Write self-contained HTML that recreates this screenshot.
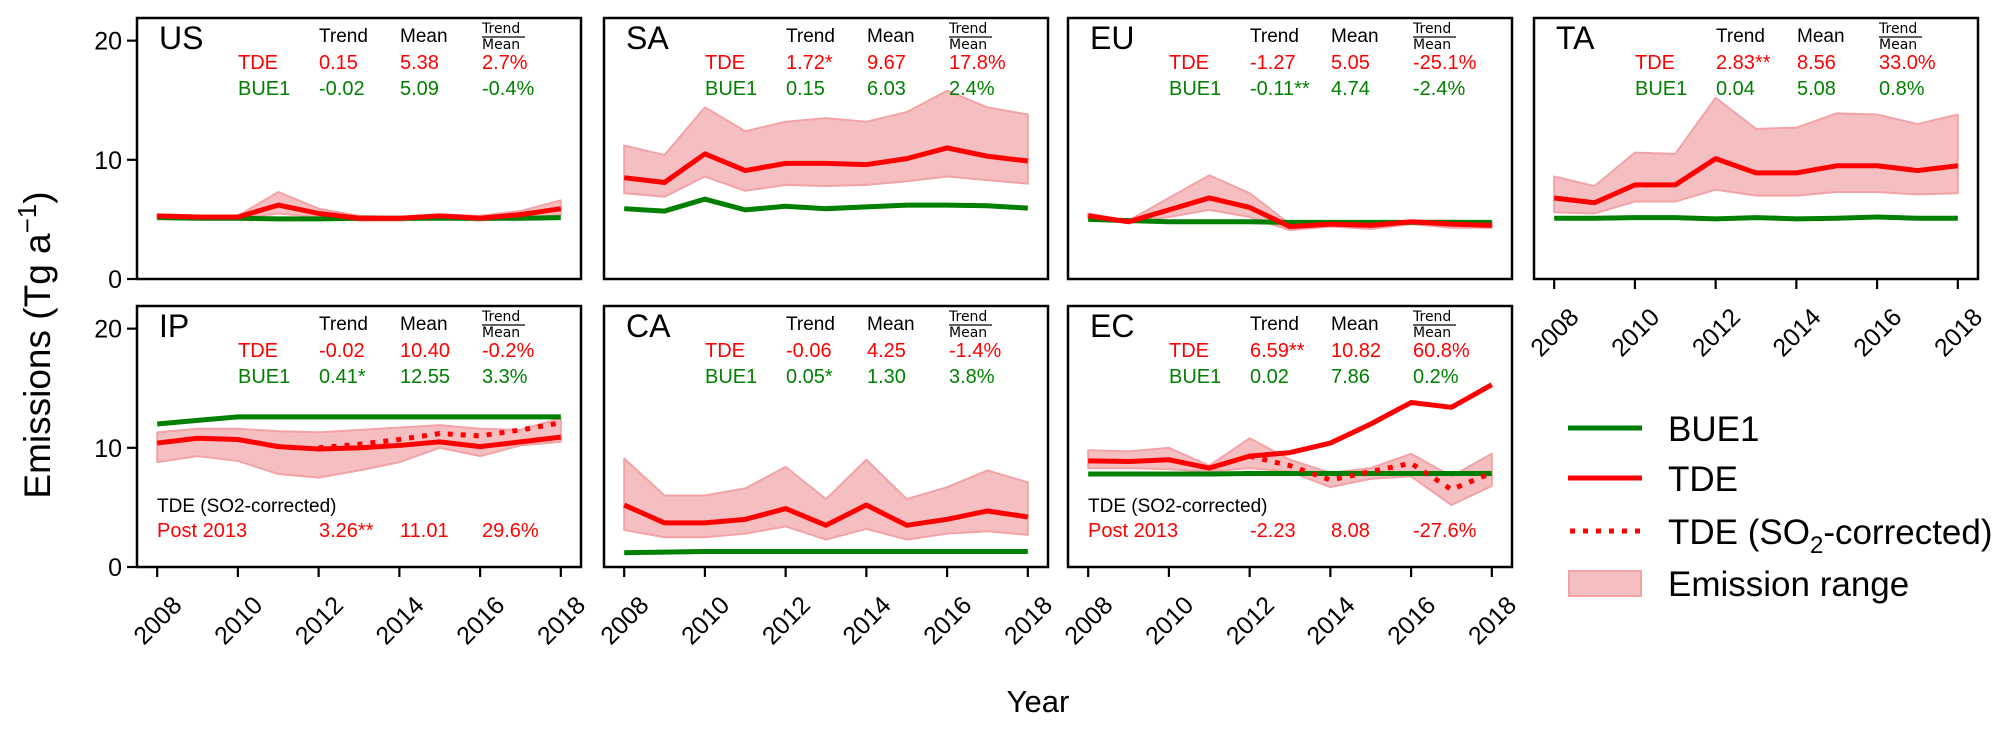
<!DOCTYPE html>
<html><head><meta charset="utf-8"><style>
html,body{margin:0;padding:0;background:#fff;}
svg{display:block;font-family:"Liberation Sans",sans-serif;}
</style></head><body>
<svg id="fig" width="2009" height="731" viewBox="0 0 2009 731" xmlns="http://www.w3.org/2000/svg"></svg>
<script>
const years = [2008,2009,2010,2011,2012,2013,2014,2015,2016,2017,2018];
const corrYears = [2012,2013,2014,2015,2016,2017,2018];
const yTicks = [0,10,20];
const xTicks = [2008,2010,2012,2014,2016,2018];

const usTDE = [5.3,5.2,5.2,6.2,5.5,5.1,5.1,5.3,5.1,5.4,5.9];
const usBUE = [5.15,5.1,5.1,5.05,5.05,5.1,5.1,5.1,5.1,5.1,5.15];
const usHi = [5.4,5.2,5.3,7.3,5.9,5.3,5.2,5.4,5.3,5.7,6.6];
const usLo = [5.1,5.1,5.1,5.5,5.2,4.9,4.9,5.1,4.9,5.1,5.4];

const saTDE = [8.5,8.1,10.5,9.1,9.7,9.7,9.6,10.1,11.0,10.3,9.9];
const saBUE = [5.9,5.7,6.7,5.8,6.1,5.9,6.05,6.2,6.2,6.15,5.95];
const saHi = [11.2,10.4,14.4,12.4,13.2,13.5,13.2,14.0,15.8,14.4,13.8];
const saLo = [7.2,6.9,8.6,7.4,7.9,7.8,7.9,8.2,8.6,8.3,8.0];

const euTDE = [5.3,4.8,5.8,6.8,6.0,4.4,4.6,4.5,4.8,4.6,4.5];
const euBUE = [5.0,4.9,4.8,4.8,4.8,4.75,4.75,4.75,4.75,4.75,4.75];
const euHi = [5.5,4.9,6.8,8.7,7.2,4.6,4.8,4.7,4.9,4.9,4.8];
const euLo = [5.1,4.7,5.2,5.8,5.2,4.1,4.4,4.2,4.6,4.3,4.3];

const taTDE = [6.8,6.4,7.9,7.9,10.1,8.9,8.9,9.5,9.5,9.1,9.5];
const taBUE = [5.1,5.1,5.15,5.15,5.05,5.15,5.05,5.1,5.2,5.1,5.1];
const taHi = [8.6,7.8,10.6,10.5,15.2,12.6,12.7,13.9,13.8,13.0,13.8];
const taLo = [5.6,5.5,6.5,6.5,7.5,7.0,7.0,7.3,7.3,7.1,7.2];

const ipTDE = [10.4,10.8,10.7,10.1,9.9,10.0,10.2,10.5,10.1,10.5,10.9];
const ipBUE = [12.0,12.3,12.6,12.6,12.6,12.6,12.6,12.6,12.6,12.6,12.6];
const ipCorr = [10.0,10.3,10.7,11.2,11.0,11.5,12.1];
const ipHi = [11.3,11.6,11.6,11.4,11.3,11.5,11.7,11.9,11.6,11.5,12.5];
const ipLo = [8.8,9.3,8.9,7.8,7.5,8.1,8.8,10.0,9.3,10.2,10.5];

const caTDE = [5.2,3.7,3.7,4.0,4.9,3.5,5.2,3.5,4.0,4.7,4.2];
const caBUE = [1.2,1.25,1.3,1.3,1.3,1.3,1.3,1.3,1.3,1.3,1.3];
const caHi = [9.1,6.0,6.0,6.6,8.4,5.7,9.0,5.7,6.7,8.1,7.1];
const caLo = [3.1,2.5,2.5,2.8,3.4,2.3,3.2,2.3,2.8,3.0,2.7];

const ecTDE = [8.9,8.85,9.0,8.3,9.3,9.6,10.4,12.0,13.8,13.4,15.3];
const ecBUE = [7.8,7.8,7.8,7.8,7.85,7.85,7.85,7.85,7.85,7.85,7.85];
const ecCorr = [9.3,8.5,7.3,8.0,8.7,6.5,7.9];
const ecHi = [9.8,9.7,10.0,8.5,10.8,9.0,7.9,8.3,9.5,7.6,9.5];
const ecLo = [8.3,8.3,8.2,8.0,8.3,8.0,6.7,7.4,7.6,5.2,6.8];

const tableTDE = {US:["0.15","5.38","2.7%"],SA:["1.72*","9.67","17.8%"],EU:["-1.27","5.05","-25.1%"],TA:["2.83**","8.56","33.0%"],IP:["-0.02","10.40","-0.2%"],CA:["-0.06","4.25","-1.4%"],EC:["6.59**","10.82","60.8%"]};
const tableBUE = {US:["-0.02","5.09","-0.4%"],SA:["0.15","6.03","2.4%"],EU:["-0.11**","4.74","-2.4%"],TA:["0.04","5.08","0.8%"],IP:["0.41*","12.55","3.3%"],CA:["0.05*","1.30","3.8%"],EC:["0.02","7.86","0.2%"]};
const tablePost = {IP:["3.26**","11.01","29.6%"],EC:["-2.23","8.08","-27.6%"]};

const NS="http://www.w3.org/2000/svg";
const svg=document.getElementById('fig');
function mk(tag,attrs,parent){const e=document.createElementNS(NS,tag);for(const k in attrs)e.setAttribute(k,attrs[k]);(parent||svg).appendChild(e);return e;}
function txt(s,attrs,parent){const e=mk('text',attrs,parent);e.textContent=s;return e;}

const W=444,H=261,YMAX=21.9;
const panels=[
 {id:'US',x:137,y:18,tde:usTDE,bue:usBUE,hi:usHi,lo:usLo,ylab:true,xlab:false},
 {id:'SA',x:604,y:18,tde:saTDE,bue:saBUE,hi:saHi,lo:saLo,ylab:false,xlab:false},
 {id:'EU',x:1068,y:18,tde:euTDE,bue:euBUE,hi:euHi,lo:euLo,ylab:false,xlab:false},
 {id:'TA',x:1534,y:18,tde:taTDE,bue:taBUE,hi:taHi,lo:taLo,ylab:false,xlab:true},
 {id:'IP',x:137,y:306,tde:ipTDE,bue:ipBUE,hi:ipHi,lo:ipLo,corr:ipCorr,ylab:true,xlab:true},
 {id:'CA',x:604,y:306,tde:caTDE,bue:caBUE,hi:caHi,lo:caLo,ylab:false,xlab:true},
 {id:'EC',x:1068,y:306,tde:ecTDE,bue:ecBUE,hi:ecHi,lo:ecLo,corr:ecCorr,ylab:false,xlab:true}
];

panels.forEach(p=>{
  const g=mk('g',{});
  
  
  const sx=yr=>p.x+W/22+(yr-2008)*(W/11);
  const sy=v=>p.y+H-v*(H/YMAX);
  let d='M'+years.map((yr,i)=>sx(yr)+','+sy(p.hi[i])).join('L');
  d+='L'+years.slice().reverse().map((yr,j)=>{const i=years.length-1-j;return sx(yr)+','+sy(p.lo[i]);}).join('L')+'Z';
  const band=mk('path',{d:d,fill:'#f5bfc1',stroke:'#f2a3a6','stroke-width':2,'stroke-linejoin':'round'},g);
  
  
  const lb=mk('polyline',{points:years.map((yr,i)=>sx(yr)+','+sy(p.bue[i])).join(' '),fill:'none',stroke:'#008000','stroke-width':5},g);
  
  
  const lt=mk('polyline',{points:years.map((yr,i)=>sx(yr)+','+sy(p.tde[i])).join(' '),fill:'none',stroke:'#ff0000','stroke-width':5,'stroke-linejoin':'round'},g);
  
  
  if(p.corr){
    const lc=mk('polyline',{points:corrYears.map((yr,i)=>sx(yr)+','+sy(p.corr[i])).join(' '),fill:'none',stroke:'#ff0000','stroke-width':5,'stroke-dasharray':'5,8'},g);
    
    
  }
  const fr=mk('rect',{x:p.x,y:p.y,width:W,height:H,fill:'none',stroke:'#000','stroke-width':2.5},g);
  
  
  const t=txt(p.id,{x:p.x+22,y:p.y+31,'font-size':32,fill:'#000'},g);
  
  
  const cx=[p.x+182,p.x+263,p.x+345];
  txt('Trend',{x:cx[0],y:p.y+24,'font-size':19},g);
  txt('Mean',{x:cx[1],y:p.y+24,'font-size':19},g);
  txt('Trend',{x:cx[2],y:p.y+15,'font-size':14,'font-family':'DejaVu Sans'},g);
  mk('line',{x1:cx[2],x2:cx[2]+43,y1:p.y+19,y2:p.y+19,stroke:'#000','stroke-width':1.2},g);
  txt('Mean',{x:cx[2],y:p.y+31,'font-size':14,'font-family':'DejaVu Sans'},g);
  txt('TDE',{x:p.x+101,y:p.y+51,'font-size':20,fill:'#ff0000'},g);
  txt('BUE1',{x:p.x+101,y:p.y+77,'font-size':20,fill:'#008000'},g);
  tableTDE[p.id].forEach((s,i)=>txt(s,{x:cx[i],y:p.y+51,'font-size':20,fill:'#ff0000'},g));
  tableBUE[p.id].forEach((s,i)=>txt(s,{x:cx[i],y:p.y+77,'font-size':20,fill:'#008000'},g));
  if(tablePost[p.id]){
    txt('TDE (SO2-corrected)',{x:p.x+20,y:p.y+H-55,'font-size':19},g);
    txt('Post 2013',{x:p.x+20,y:p.y+H-30,'font-size':20,fill:'#ff0000'},g);
    tablePost[p.id].forEach((s,i)=>txt(s,{x:cx[i],y:p.y+H-30,'font-size':20,fill:'#ff0000'},g));
  }
  if(p.ylab){
    yTicks.forEach(v=>{
      mk('line',{x1:p.x-10,x2:p.x,y1:sy(v),y2:sy(v),stroke:'#000','stroke-width':2.2},g);
      const tl=txt(String(v),{x:p.x-15,y:sy(v)+9,'font-size':25,'text-anchor':'end'},g);
      
      
    });
  }
  if(p.xlab){
    xTicks.forEach(yr=>{
      mk('line',{x1:sx(yr),x2:sx(yr),y1:p.y+H,y2:p.y+H+10,stroke:'#000','stroke-width':2.2},g);
      const cy=p.y+H+53;
      const tl=txt(String(yr),{x:sx(yr),y:cy+9,'font-size':25,'text-anchor':'middle',transform:'rotate(-45 '+sx(yr)+' '+cy+')'},g);
      
      
    });
  }
});
</script>
<svg style="position:absolute;left:0;top:0" width="2009" height="731">
 <text x="0" y="0" transform="translate(50 345) rotate(-90)" text-anchor="middle" font-family="Liberation Sans, sans-serif" font-size="37">Emissions (Tg a<tspan dy="-14" font-size="26">−1</tspan><tspan dy="14">)</tspan></text>
 <text x="1038" y="712" text-anchor="middle" font-family="Liberation Sans, sans-serif" font-size="31">Year</text>
 <g font-family="Liberation Sans, sans-serif" font-size="35">
  <line x1="1568" x2="1642" y1="428" y2="428" stroke="#008000" stroke-width="5"/>
  <text x="1668" y="441">BUE1</text>
  <line x1="1568" x2="1642" y1="478" y2="478" stroke="#ff0000" stroke-width="5"/>
  <text x="1668" y="491">TDE</text>
  <line x1="1570" x2="1642" y1="531" y2="531" stroke="#ff0000" stroke-width="5" stroke-dasharray="5,8"/>
  <text x="1668" y="544">TDE (SO<tspan dy="9" font-size="24">2</tspan><tspan dy="-9">-corrected)</tspan></text>
  <rect x="1569" y="571" width="72" height="25" fill="#f5bfc1" stroke="#f2a3a6" stroke-width="2"/>
  <text x="1668" y="596">Emission range</text>
 </g>
</svg>
</body></html>
